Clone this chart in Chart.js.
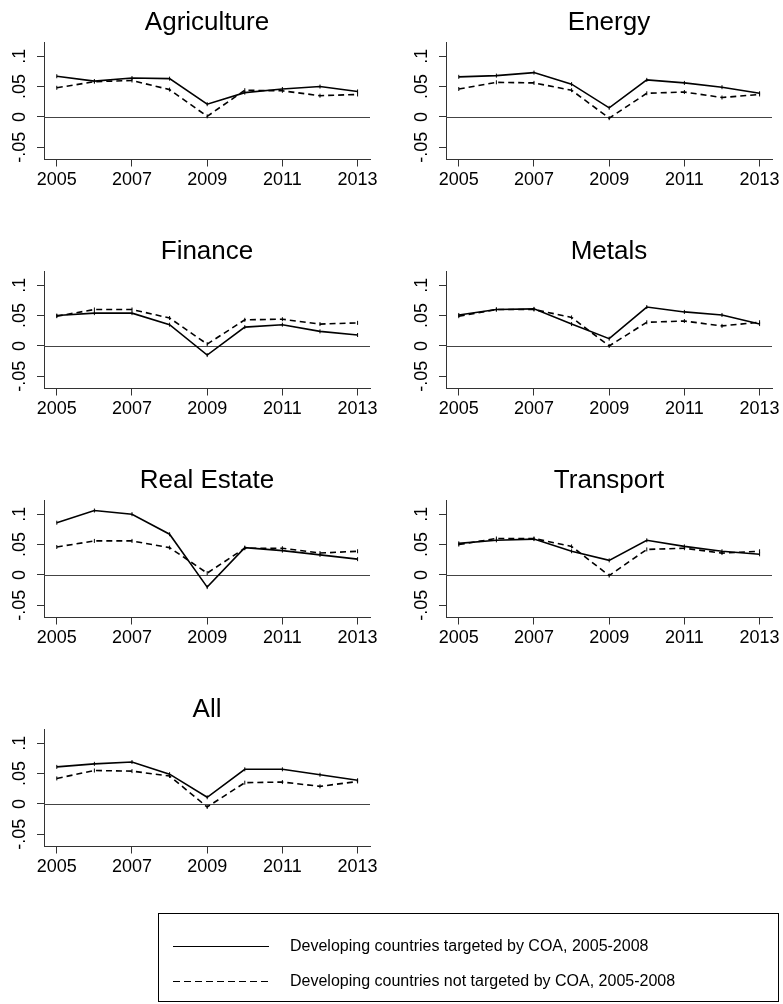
<!DOCTYPE html>
<html>
<head>
<meta charset="utf-8">
<script src="https://cdn.jsdelivr.net/npm/chart.js@4.4.0/dist/chart.umd.min.js"></script>
<style>
  html, body { margin: 0; padding: 0; background: #fff; overflow: hidden; }
  body { width: 783px; height: 1004px; position: relative; font-family: "Liberation Sans", Arial, sans-serif; }
  .panel { position: absolute; width: 390px; height: 229px; }
  #legend { position: absolute; left: 158px; top: 913px; width: 621px; height: 89px; border: 1px solid #000; box-sizing: border-box; }
  .item { position: absolute; left: 0; height: 24px; width: 100%; }
  .item svg { position: absolute; left: 14px; top: 7px; }
  .item span { position: absolute; left: 131px; top: 3px; font-size: 16px; color: #000; white-space: nowrap; }
</style>
</head>
<body>
<div id="panels"></div>
<div id="legend">
  <div class="item" style="top:20px">
    <svg width="96" height="10"><line x1="0" y1="5.5" x2="96" y2="5.5" stroke="#000" stroke-width="1"/></svg>
    <span>Developing countries targeted by COA, 2005-2008</span>
  </div>
  <div class="item" style="top:55px">
    <svg width="96" height="10"><line x1="0" y1="5.5" x2="96" y2="5.5" stroke="#000" stroke-width="1" stroke-dasharray="7,4"/></svg>
    <span>Developing countries not targeted by COA, 2005-2008</span>
  </div>
</div>
<script>
// years on the x axis and the tick values shown
var years = [2005, 2006, 2007, 2008, 2009, 2010, 2011, 2012, 2013];
var xTicks = [2005, 2007, 2009, 2011, 2013];
var yTicks = [-0.05, 0, 0.05, 0.1];
var yTickLabels = ['-.05', '0', '.05', '.1'];

var sectors = ['Agriculture', 'Energy', 'Finance', 'Metals', 'Real Estate', 'Transport', 'All'];

// targeted by COA (solid) / not targeted (dashed)
var agricultureTargeted    = [0.067, 0.059, 0.064, 0.063, 0.021, 0.040, 0.046, 0.050, 0.042];
var agricultureNotTargeted = [0.048, 0.058, 0.060, 0.045, 0.001, 0.044, 0.043, 0.035, 0.037];
var energyTargeted         = [0.066, 0.068, 0.073, 0.054, 0.015, 0.061, 0.056, 0.049, 0.039];
var energyNotTargeted      = [0.046, 0.057, 0.056, 0.044, -0.002, 0.039, 0.041, 0.032, 0.037];
var financeTargeted        = [0.050, 0.054, 0.054, 0.035, -0.015, 0.031, 0.035, 0.024, 0.018];
var financeNotTargeted     = [0.049, 0.060, 0.060, 0.046, 0.003, 0.043, 0.044, 0.036, 0.038];
var metalsTargeted         = [0.051, 0.060, 0.061, 0.036, 0.012, 0.064, 0.056, 0.051, 0.036];
var metalsNotTargeted      = [0.049, 0.060, 0.060, 0.047, 0.000, 0.039, 0.041, 0.033, 0.039];
var realEstateTargeted     = [0.086, 0.106, 0.100, 0.067, -0.020, 0.045, 0.040, 0.033, 0.026];
var realEstateNotTargeted  = [0.046, 0.056, 0.056, 0.045, 0.003, 0.044, 0.044, 0.036, 0.039];
var transportTargeted      = [0.052, 0.057, 0.059, 0.039, 0.024, 0.057, 0.047, 0.039, 0.034];
var transportNotTargeted   = [0.050, 0.060, 0.060, 0.047, -0.001, 0.042, 0.044, 0.036, 0.039];
var allTargeted            = [0.061, 0.066, 0.069, 0.049, 0.011, 0.057, 0.057, 0.048, 0.039];
var allNotTargeted         = [0.042, 0.055, 0.054, 0.046, -0.005, 0.035, 0.036, 0.029, 0.037];

var targetedSeries = [agricultureTargeted, energyTargeted, financeTargeted, metalsTargeted, realEstateTargeted, transportTargeted, allTargeted];
var notTargetedSeries = [agricultureNotTargeted, energyNotTargeted, financeNotTargeted, metalsNotTargeted, realEstateNotTargeted, transportNotTargeted, allNotTargeted];

var fontFamily = '"Liberation Sans", Arial, sans-serif';
var axisColor = '#333';

// horizontal reference line at y = 0
var zeroLine = {
    id: 'zeroLine',
    beforeDatasetsDraw: function (chart) {
        var ctx = chart.ctx, area = chart.chartArea;
        var y = Math.round(chart.scales.y.getPixelForValue(0)) + 0.5;
        ctx.save();
        ctx.strokeStyle = '#444';
        ctx.lineWidth = 1;
        ctx.beginPath();
        ctx.moveTo(area.left, y);
        ctx.lineTo(area.right, y);
        ctx.stroke();
        ctx.restore();
    }
};

function points(values) {
    return years.map(function (yr, i) { return { x: yr, y: values[i] }; });
}

var container = document.getElementById('panels');

sectors.forEach(function (name, i) {
    var col = i % 2, row = Math.floor(i / 2);
    var div = document.createElement('div');
    div.className = 'panel';
    div.style.left = (col === 0 ? 0 : 402) + 'px';
    div.style.top = (row * 229) + 'px';
    var canvas = document.createElement('canvas');
    div.appendChild(canvas);
    container.appendChild(div);

    new Chart(canvas, {
        type: 'line',
        data: {
            datasets: [{
                data: points(targetedSeries[i]),
                borderColor: '#000',
                borderWidth: 1.6,
                pointStyle: 'line',
                rotation: 90,
                pointRadius: 2,
                pointBorderWidth: 1,
                pointBorderColor: '#000',
                tension: 0
            }, {
                data: points(notTargetedSeries[i]),
                borderColor: '#000',
                borderWidth: 1.6,
                borderDash: [6, 4],
                pointStyle: 'line',
                rotation: 90,
                pointRadius: 2,
                pointBorderWidth: 1,
                pointBorderColor: '#000',
                tension: 0
            }]
        },
        options: {
            responsive: true,
            maintainAspectRatio: false,
            animation: false,
            layout: { padding: { left: 0, right: 20, top: 0, bottom: 0 } },
            plugins: {
                legend: { display: false },
                tooltip: { enabled: false },
                title: {
                    display: true,
                    text: name,
                    fullSize: false,
                    color: '#000',
                    font: { family: fontFamily, size: 26, weight: 'normal' },
                    padding: { top: 7, bottom: 4 }
                }
            },
            scales: {
                x: {
                    type: 'linear',
                    min: 2004.66,
                    max: 2013.33,
                    afterBuildTicks: function (s) { s.ticks = xTicks.map(function (v) { return { value: v }; }); },
                    afterFit: function (s) { s.height = 69.5; },
                    grid: { drawOnChartArea: false, drawTicks: true, tickLength: 7, color: axisColor },
                    border: { display: true, color: axisColor, width: 1 },
                    ticks: {
                        color: '#000',
                        font: { family: fontFamily, size: 18 },
                        padding: 3,
                        maxRotation: 0,
                        autoSkip: false,
                        callback: function (v) { return String(v); }
                    }
                },
                y: {
                    min: -0.07,
                    max: 0.123,
                    afterBuildTicks: function (s) { s.ticks = yTicks.map(function (v) { return { value: v }; }); },
                    afterFit: function (s) { s.width = 44; },
                    grid: { drawOnChartArea: false, drawTicks: true, tickLength: 7, color: axisColor },
                    border: { display: true, color: axisColor, width: 1 },
                    ticks: {
                        color: '#000',
                        font: { family: fontFamily, size: 18 },
                        padding: 1.5,
                        minRotation: 90,
                        maxRotation: 90,
                        crossAlign: 'center',
                        callback: function (v) { return yTickLabels[yTicks.indexOf(v)]; }
                    }
                }
            }
        },
        plugins: [zeroLine]
    });
});
</script>
</body>
</html>
